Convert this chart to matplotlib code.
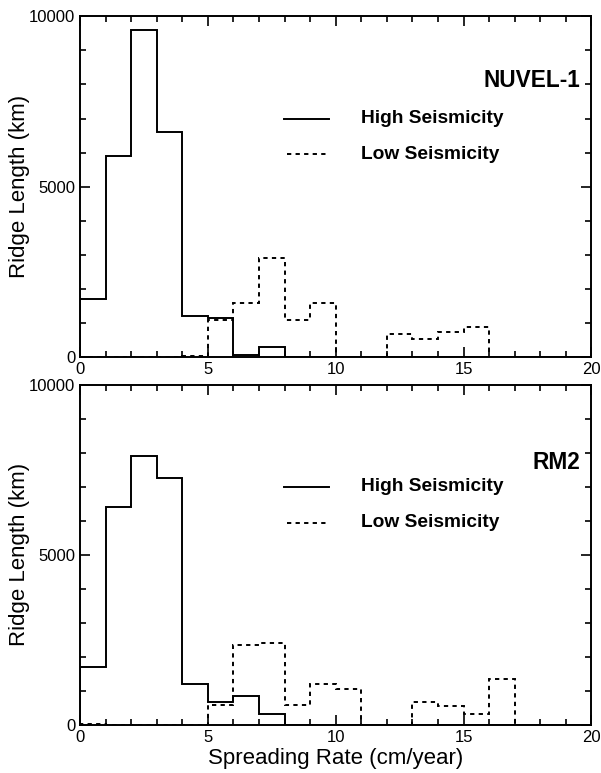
import numpy as np
import matplotlib
matplotlib.use('Agg')
import matplotlib.pyplot as plt
from matplotlib.ticker import MultipleLocator

plt.rcParams['font.family'] = ['Liberation Sans', 'DejaVu Sans']

# spreading rate bins, 1 cm/year wide
edges = np.arange(0, 21)

# ridge length (km) per bin
nuvel_high = [1700, 5900, 9600, 6600, 1220, 1150, 60, 300, 0, 0,
              0, 0, 0, 0, 0, 0, 0, 0, 0, 0]
nuvel_low = [0, 0, 0, 0, 40, 1100, 1600, 2900, 1100, 1600,
             0, 0, 680, 520, 740, 880, 0, 0, 0, 0]
rm2_high = [1700, 6420, 7910, 7250, 1200, 670, 850, 310, 0, 0,
            0, 0, 0, 0, 0, 0, 0, 0, 0, 0]
rm2_low = [40, 0, 0, 0, 0, 590, 2350, 2400, 580, 1210,
           1050, 0, 0, 690, 550, 320, 1340, 0, 0, 0]

panels = [("NUVEL-1", 0.812, nuvel_high, nuvel_low),
          ("RM2", 0.771, rm2_high, rm2_low)]

fig = plt.figure(figsize=(6.01, 7.73), dpi=100)
axes = [fig.add_axes([0.1331, 0.538, 0.851, 0.441]),
        fig.add_axes([0.1331, 0.0621, 0.851, 0.44])]

for ax, (name, name_y, high, low) in zip(axes, panels):
    ax.stairs(low, edges, baseline=0, color='black', lw=1.4,
              linestyle=(0, (2.2, 2.2)))
    ax.stairs(high, edges, baseline=0, color='black', lw=1.4)
    ax.set_xlim(0, 20)
    ax.set_ylim(0, 10000)
    ax.xaxis.set_major_locator(MultipleLocator(5))
    ax.xaxis.set_minor_locator(MultipleLocator(1))
    ax.yaxis.set_major_locator(MultipleLocator(5000))
    ax.yaxis.set_minor_locator(MultipleLocator(1000))
    ax.tick_params(which='both', direction='in', top=True, right=True,
                   labelsize=12, width=1.2)
    ax.tick_params(which='major', length=7)
    ax.tick_params(which='minor', length=4)
    for s in ax.spines.values():
        s.set_linewidth(1.4)
    ax.set_ylabel("Ridge Length (km)", fontsize=16)
    ax.yaxis.set_label_coords(-0.097, 0.5)

    ax.text(0.979, name_y, name, transform=ax.transAxes, ha='right',
            va='center', fontsize=16.3, fontweight='bold')
    ax.plot([0.399, 0.486], [0.70, 0.70], transform=ax.transAxes,
            color='black', lw=1.4)
    ax.plot([0.405, 0.486], [0.595, 0.595], transform=ax.transAxes,
            color='black', lw=1.4, linestyle=(0, (2.2, 2.2)))
    ax.text(0.549, 0.70, "High Seismicity", transform=ax.transAxes,
            va='center', fontsize=13.8, fontweight='bold')
    ax.text(0.549, 0.595, "Low Seismicity", transform=ax.transAxes,
            va='center', fontsize=13.8, fontweight='bold')

axes[1].set_xlabel("Spreading Rate (cm/year)", fontsize=16, labelpad=2)

fig.savefig("out.png", dpi=100)
